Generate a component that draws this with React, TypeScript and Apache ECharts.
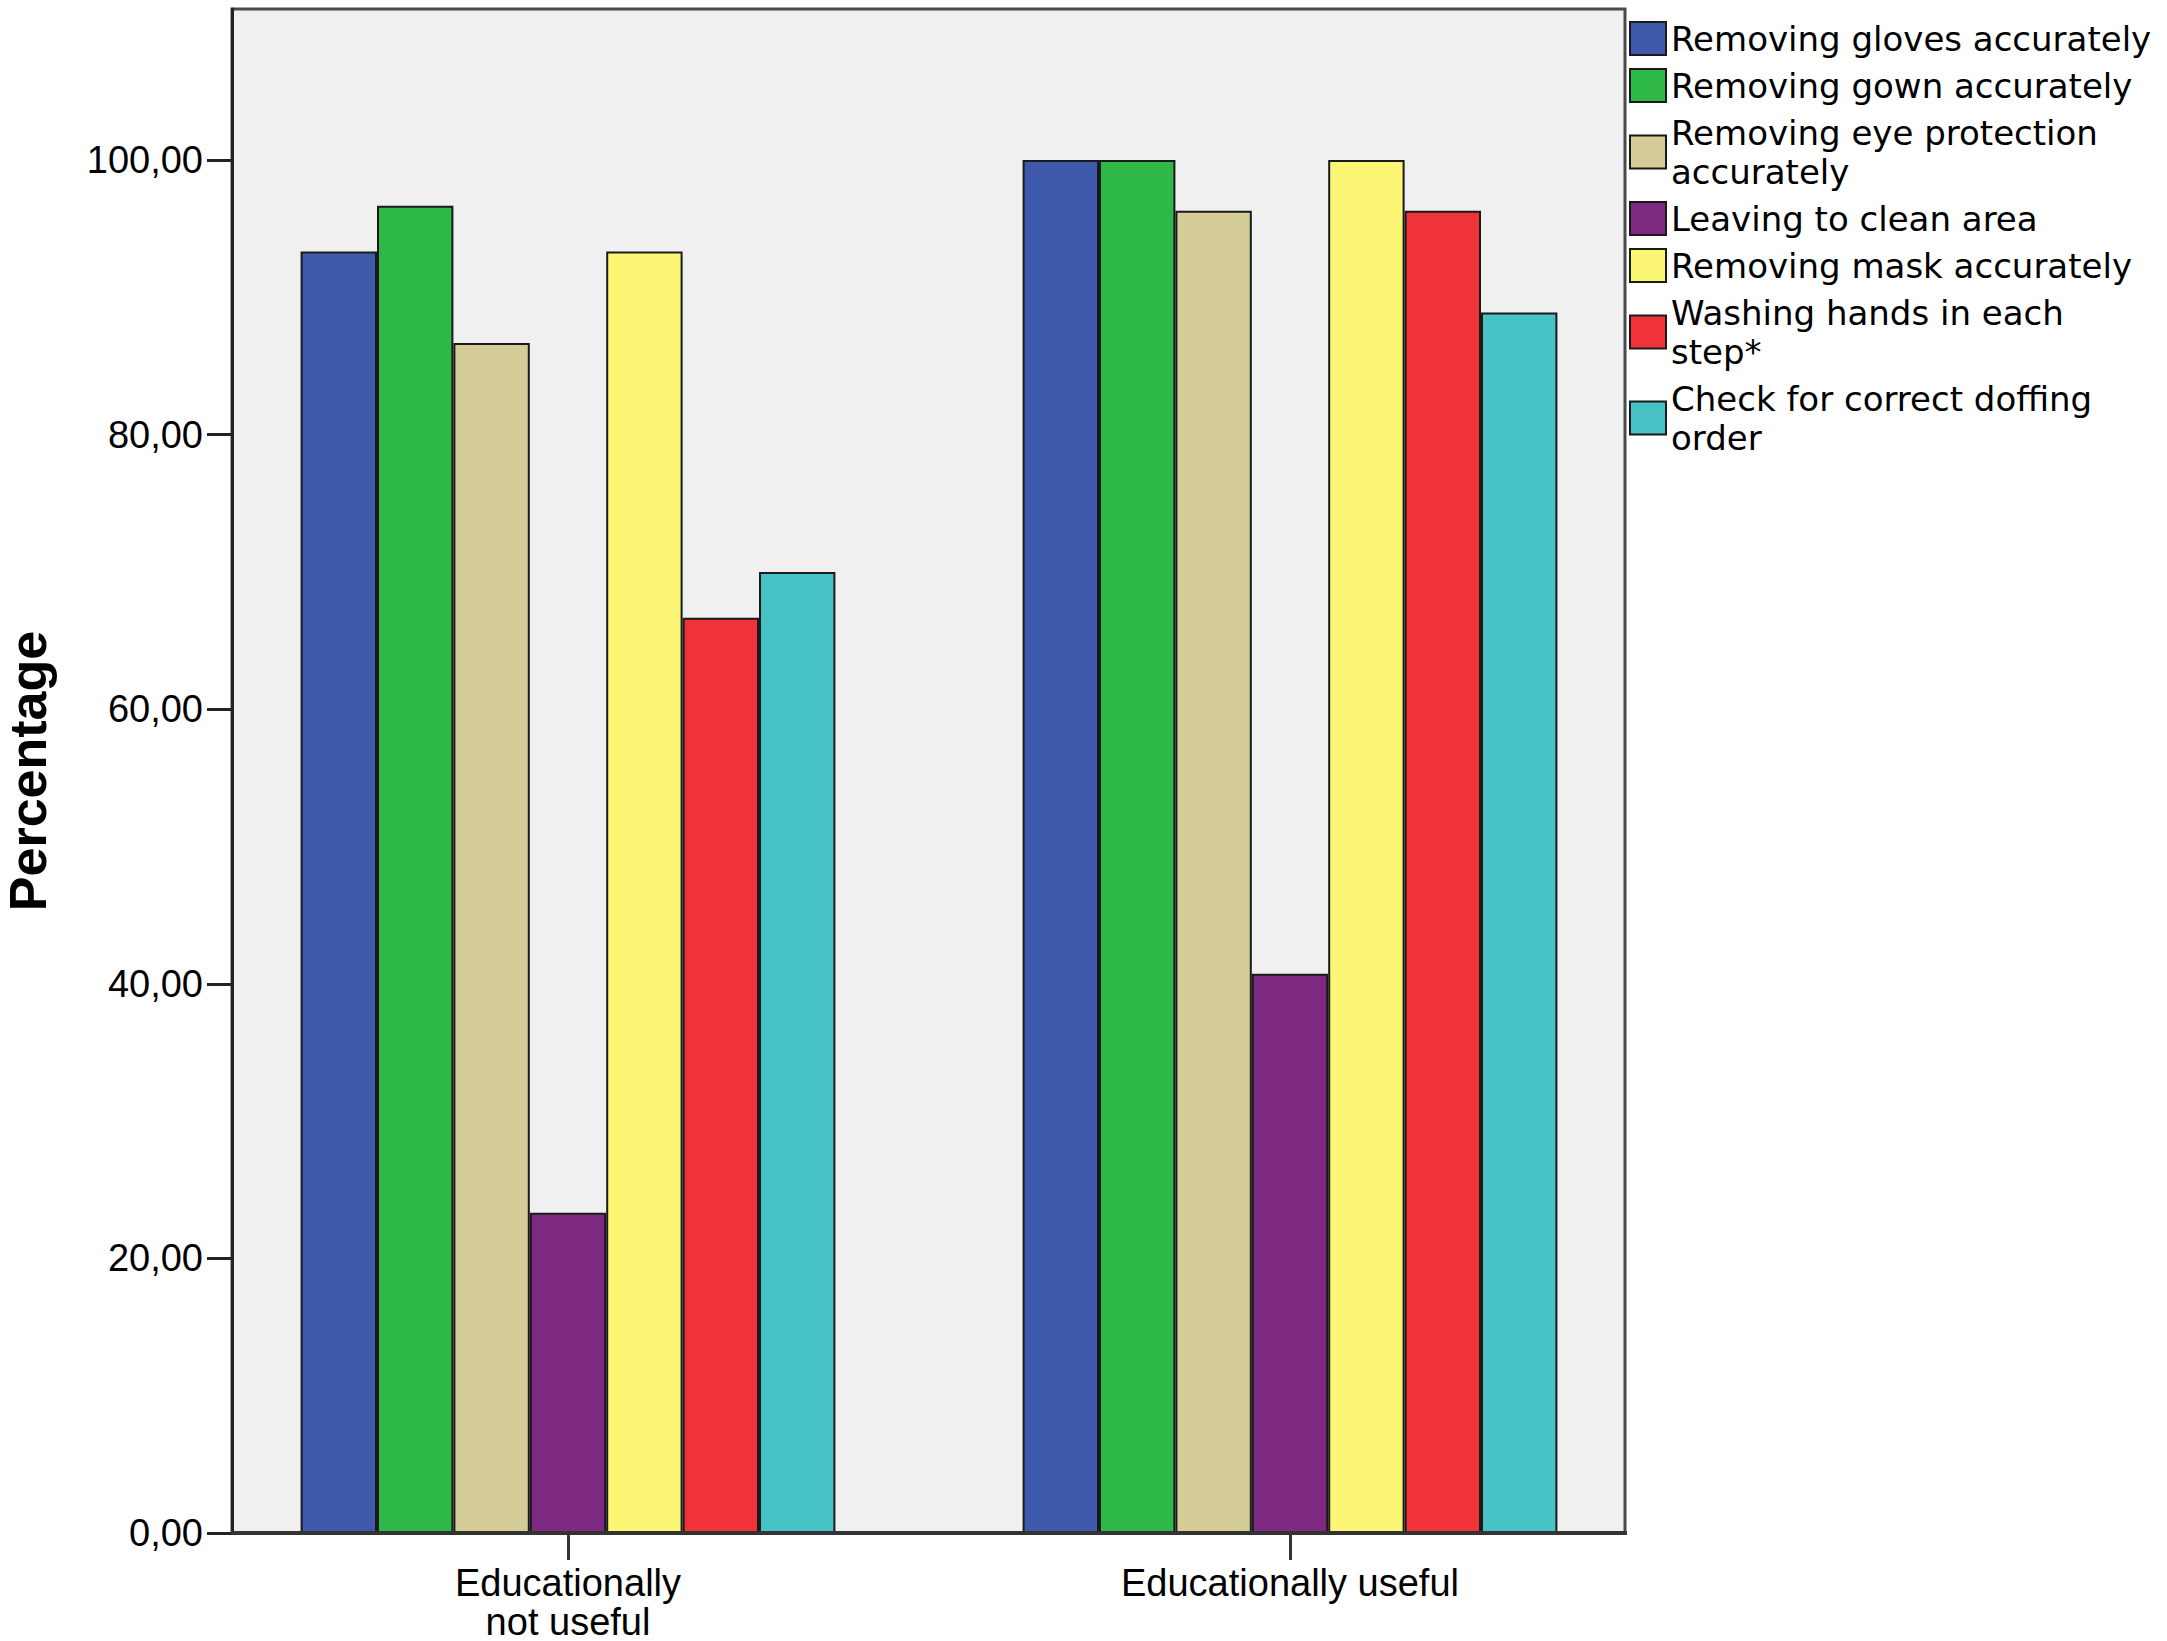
import React, { useEffect, useRef } from "react";
import * as echarts from "echarts";

const categories = ["Educationally\nnot useful", "Educationally useful"];

const seriesNames = [
  "Removing gloves accurately",
  "Removing gown accurately",
  "Removing eye protection accurately",
  "Leaving to clean area",
  "Removing mask accurately",
  "Washing hands in each step*",
  "Check for correct doffing order",
];

const legendLabels = [
  "Removing gloves accurately",
  "Removing gown accurately",
  "Removing eye protection\naccurately",
  "Leaving to clean area",
  "Removing mask accurately",
  "Washing hands in each\nstep*",
  "Check for correct doffing\norder",
];

const glovesValues = [93.33, 100];
const gownValues = [96.67, 100];
const eyeValues = [86.67, 96.3];
const cleanAreaValues = [23.33, 40.74];
const maskValues = [93.33, 100];
const handsValues = [66.67, 96.3];
const orderValues = [70.0, 88.89];

const seriesValues = [glovesValues, gownValues, eyeValues, cleanAreaValues, maskValues, handsValues, orderValues];

const seriesColors = ["#3E58AC", "#2EB848", "#D4CD97", "#7E2A82", "#FBF775", "#EF3339", "#47C3C5"];

const yTicks = [0, 20, 40, 60, 80, 100];

export default function App() {
  const ref = useRef<HTMLDivElement>(null);

  useEffect(() => {
    if (!ref.current) return;
    const chart = echarts.init(ref.current, null, { renderer: "svg" });
    const option = {
      animation: false,
      backgroundColor: "#ffffff",
      grid: { left: 207, right: 516, top: 9, bottom: 108, outerBoundsMode: "none", containLabel: false },
      graphic: [
        {
          type: "rect",
          silent: true,
          z: 0,
          shape: { x: 232, y: 9, width: 1393, height: 1524 },
          style: { fill: "#F0F0F0", stroke: "#4a4a4a", lineWidth: 3 },
        },
        {
          type: "line",
          silent: true,
          z: 10,
          shape: { x1: 231, y1: 1533, x2: 1627, y2: 1533 },
          style: { stroke: "#333333", lineWidth: 4 },
        },
      ],
      legend: {
        orient: "vertical",
        left: 1624,
        top: 14,
        itemWidth: 36,
        itemHeight: 33,
        itemGap: 8,
        icon: "rect",
        data: seriesNames,
        formatter: (name: string) => legendLabels[seriesNames.indexOf(name)],
        textStyle: { fontFamily: "DejaVu Sans", fontSize: 34, lineHeight: 39, color: "#000" },
      },
      xAxis: {
        type: "category",
        data: categories,
        axisLine: { show: false },
        axisTick: { show: true, alignWithLabel: true, length: 27, lineStyle: { color: "#333", width: 3 } },
        axisLabel: {
          margin: 30,
          fontFamily: "Liberation Sans, Arial, sans-serif",
          fontSize: 38,
          lineHeight: 39,
          color: "#000",
        },
      },
      yAxis: {
        type: "value",
        min: 0,
        max: 111,
        offset: -25,
        name: "Percentage",
        nameLocation: "middle",
        nameGap: 178,
        nameTextStyle: {
          fontFamily: "Liberation Sans, Arial, sans-serif",
          fontSize: 52,
          fontWeight: "bold",
          color: "#000",
        },
        axisLine: { show: true, lineStyle: { color: "#222", width: 3 } },
        axisTick: { show: true, length: 25, customValues: yTicks, lineStyle: { color: "#222", width: 3 } },
        axisLabel: {
          customValues: yTicks,
          margin: 29,
          fontFamily: "Liberation Sans, Arial, sans-serif",
          fontSize: 38,
          color: "#000",
          formatter: (v: number) => v.toFixed(2).replace(".", ","),
        },
        splitLine: { show: false },
      },
      series: seriesNames.map((name, i) => ({
        name,
        type: "bar",
        data: seriesValues[i],
        barWidth: 76.4,
        barGap: "0%",
        z: 2,
        itemStyle: { color: seriesColors[i], borderColor: "#1a1a1a", borderWidth: 2 },
      })),
    };
    chart.setOption(option);
    return () => chart.dispose();
  }, []);

  return (
    <div
      ref={ref}
      style={{ position: "fixed", left: 0, top: 0, width: "2167px", height: "1641px" }}
    />
  );
}
